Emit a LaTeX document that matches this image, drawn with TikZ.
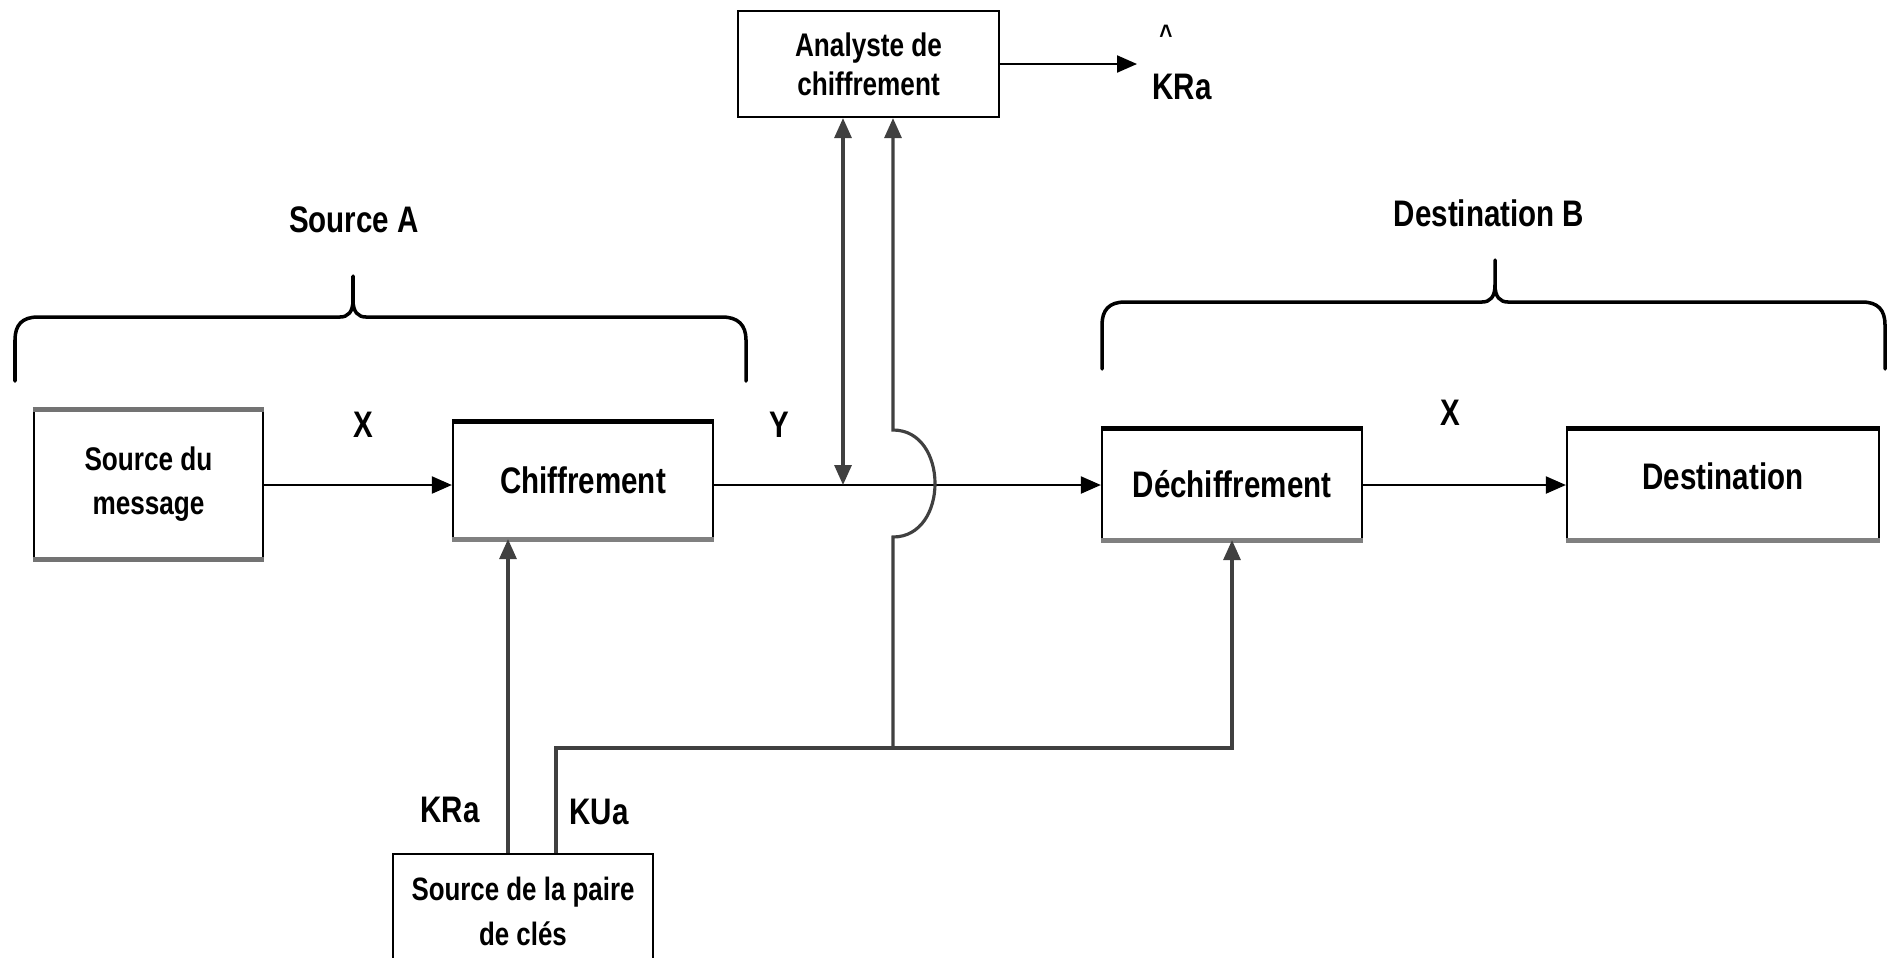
\documentclass[tikz,border=0pt]{standalone}
\usepackage{fontspec}
\setmainfont{Liberation Sans}[FakeStretch=0.8]
\usetikzlibrary{arrows.meta,calc}
\begin{document}
\begin{tikzpicture}[x=0.01cm, y=-0.01cm,
  font=\bfseries\fontsize{10.5}{13}\selectfont,
  box/.style={draw=black, line width=0.6pt, inner sep=0pt, align=center, fill=white},
  tri/.tip={Triangle[length=0.2cm, width=0.17cm]},
  tip/.style={-tri},
  hline/.style={line width=0.6pt, black},
  vline/.style={line width=0.9pt, black!75},
  brace/.style={line width=1pt, black, line cap=round},
  lab/.style={inner sep=0pt}]
\useasboundingbox (0,0) rectangle (1895,957);
\fill[white] (0,0) rectangle (1895,957);
\clip (0,0) rectangle (1895,957);

% blocks
\node[box, minimum width=2.29cm, minimum height=1.47cm, font=\bfseries\fontsize{9.3}{12.5}\selectfont] (src) at (148.5,484.5) {Source du\\message};
\node[box, minimum width=2.60cm, minimum height=1.15cm] (chif) at (583,480.5) {Chiffrement};
\node[box, minimum width=2.60cm, minimum height=1.09cm] (dech) at (1232,484.5) {Déchiffrement};
\node[box, minimum width=3.12cm, minimum height=1.09cm] (dest) at (1723,484.5) {\raisebox{0.9ex}{Destination}};
\node[box, minimum width=2.61cm, minimum height=1.06cm, font=\bfseries\fontsize{9.3}{11}\selectfont] (ana) at (868.5,64) {Analyste de\\chiffrement};
\node[box, minimum width=2.60cm, minimum height=1.15cm, font=\bfseries\fontsize{9.2}{13}\selectfont] (key) at (523,911.5) {Source de la paire\\de clés};

% heavier top and bottom edges of the blocks
\draw[line width=1.4pt, black!55] (src.north west) -- (src.north east);
\draw[line width=1.4pt, black!55] (src.south west) -- (src.south east);
\foreach \b in {chif,dech,dest}{
  \draw[line width=1.4pt, black] (\b.north west) -- (\b.north east);
  \draw[line width=1.4pt, black!50] (\b.south west) -- (\b.south east);
}

% reference points
\coordinate (ml) at (0,485);
\coordinate (j1) at (843,485);
\coordinate (hopb) at (893,537);
\coordinate (hopt) at (893,430);
\coordinate (bus) at (893,748);
\coordinate (kr) at (508,0);
\coordinate (ku) at (556,748);
\coordinate (kt) at (1137,64);

% main chain
\draw[hline, tip] (src.east |- ml) -- (chif.west |- ml);
\draw[hline, tip] (chif.east |- ml) -- (dech.west |- ml);
\draw[hline, tip] (dech.east |- ml) -- (dest.west |- ml);

% links to the cryptanalyst
\draw[vline, tri-tri] (j1 |- ana.south) -- (j1);
\draw[vline, tip] (bus) -- (hopb) .. controls +(56,0) and +(56,0) .. (hopt) -- (hopt |- ana.south);
\draw[hline, tip] (ana.east) -- (kt);

% key distribution
\draw[vline, tip] (kr |- key.north) -- (kr |- chif.south);
\draw[vline, tip] (ku |- key.north) -- (ku) -| (dech.south);

% labels
\node[lab] (x1) at (363,425) {X};
\node[lab] (y1) at (779,425) {Y};
\node[lab] (x2) at (1450,413) {X};
\node[lab] (kra) at (450,810) {KRa};
\node[lab] (kua) at (599,812) {KUa};
\node[lab] (kest) at (1182,87) {KRa};
\node[lab, font=\bfseries\fontsize{8}{9}\selectfont] (hat) at (1166,35) {\textasciicircum};
\node[lab] (sa) at (354,220) {Source A};
\node[lab] (db) at (1489,213) {Destination B};

% braces
\draw[brace] (15,381) -- (15,340) .. controls (15,325) and (22,317) .. (38,317) -- (340,317)
  .. controls (348,317) and (353,312) .. (353,300) -- (353,276);
\draw[brace] (353,300) .. controls (353,312) and (358,317) .. (366,317) -- (722,317)
  .. controls (738,317) and (746,325) .. (746,340) -- (746,381);
\draw[brace] (1102,369) -- (1102,325) .. controls (1102,310) and (1109,302) .. (1125,302) -- (1482,302)
  .. controls (1490,302) and (1495,297) .. (1495,285) -- (1495,260);
\draw[brace] (1495,285) .. controls (1495,297) and (1500,302) .. (1508,302) -- (1862,302)
  .. controls (1878,302) and (1885,310) .. (1885,325) -- (1885,369);
\end{tikzpicture}
\end{document}
